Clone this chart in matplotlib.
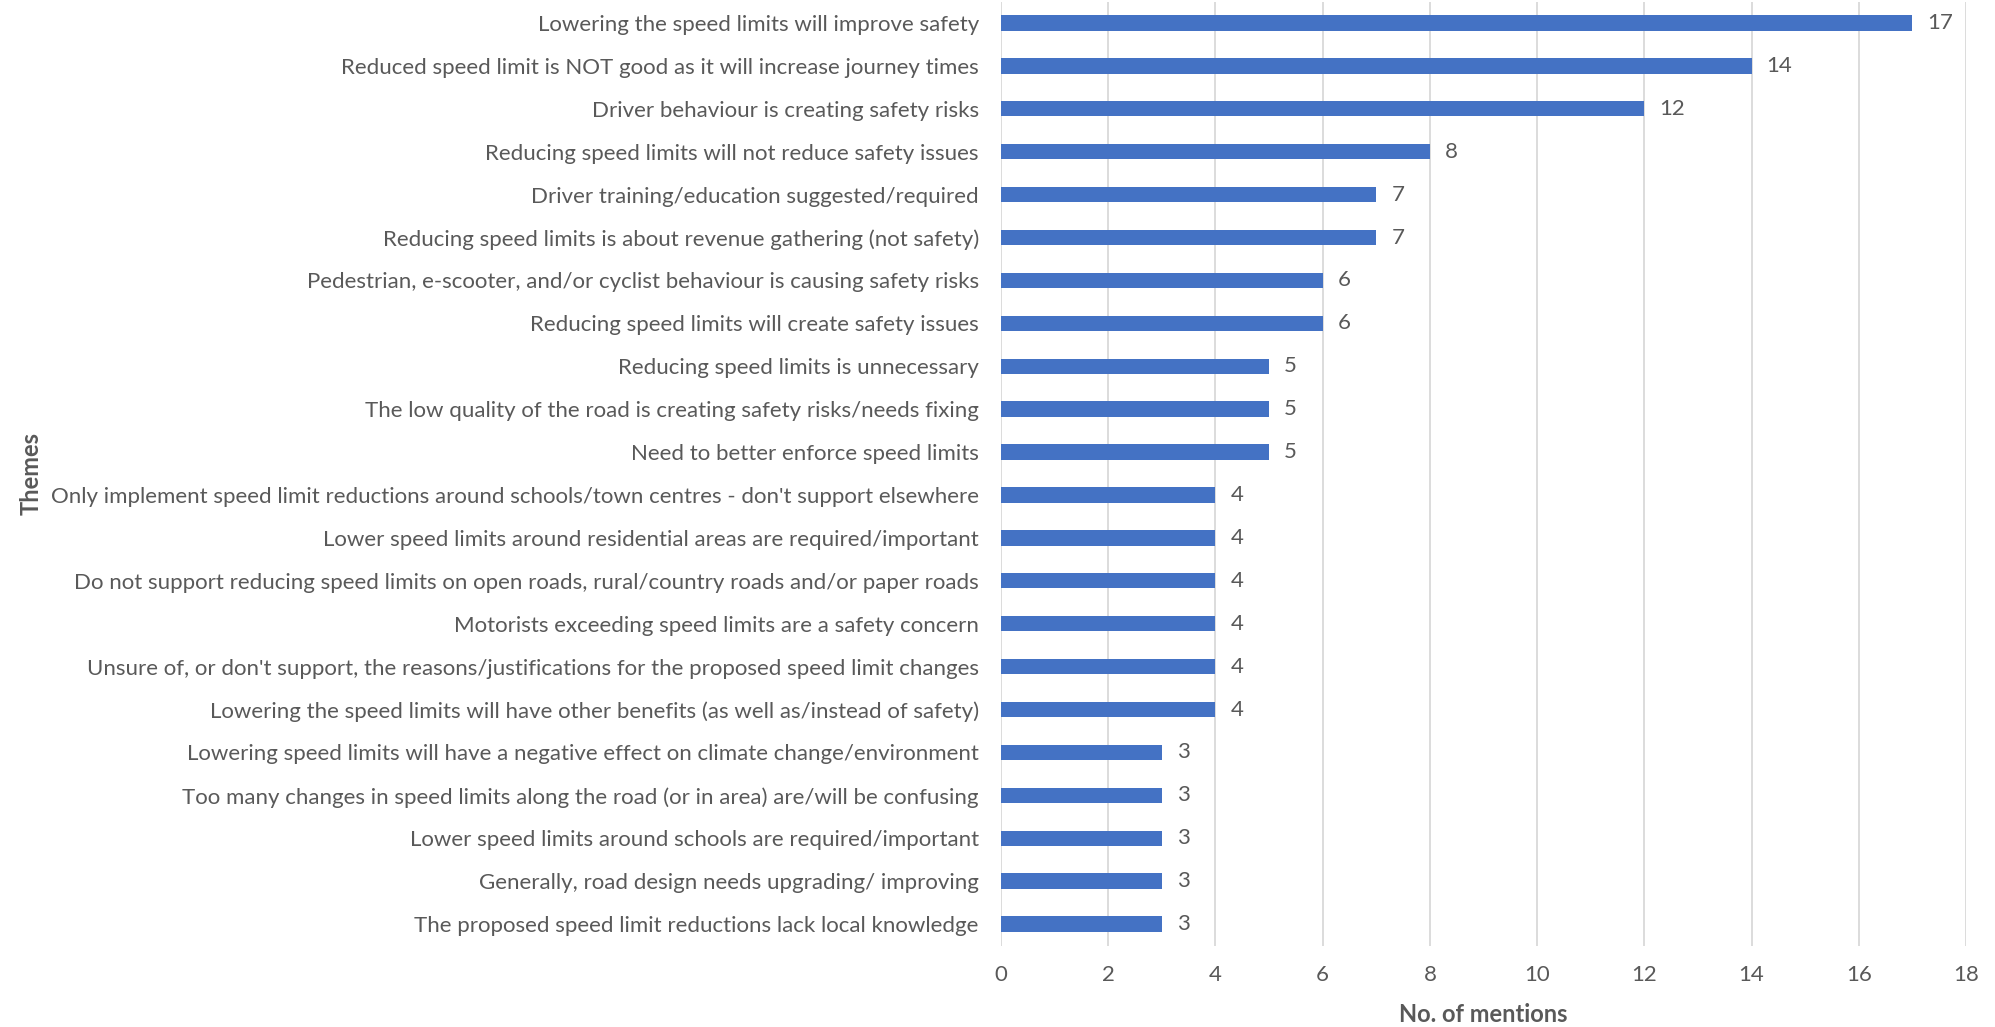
import matplotlib
matplotlib.use("Agg")
import matplotlib.pyplot as plt

themes = [
    "Lowering the speed limits will improve safety",
    "Reduced speed limit is NOT good as it will increase journey times",
    "Driver behaviour is creating safety risks",
    "Reducing speed limits will not reduce safety issues",
    "Driver training/education suggested/required",
    "Reducing speed limits is about revenue gathering (not safety)",
    "Pedestrian, e-scooter, and/or cyclist behaviour is causing safety risks",
    "Reducing speed limits will create safety issues",
    "Reducing speed limits is unnecessary",
    "The low quality of the road is creating safety risks/needs fixing",
    "Need to better enforce speed limits",
    "Only implement speed limit reductions around schools/town centres - don't support elsewhere",
    "Lower speed limits around residential areas are required/important",
    "Do not support reducing speed limits on open roads, rural/country roads and/or paper roads",
    "Motorists exceeding speed limits are a safety concern",
    "Unsure of, or don't support, the reasons/justifications for the proposed speed limit changes",
    "Lowering the speed limits will have other benefits (as well as/instead of safety)",
    "Lowering speed limits will have a negative effect on climate change/environment",
    "Too many changes in speed limits along the road (or in area) are/will be confusing",
    "Lower speed limits around schools are required/important",
    "Generally, road design needs upgrading/ improving",
    "The proposed speed limit reductions lack local knowledge",
]
mentions = [17, 14, 12, 8, 7, 7, 6, 6, 5, 5, 5, 4, 4, 4, 4, 4, 4, 3, 3, 3, 3, 3]
x_ticks = [0, 2, 4, 6, 8, 10, 12, 14, 16, 18]

TEXT = "#595959"
BAR = "#4472C4"
GRID = "#D9D9D9"

plt.rcParams["font.family"] = ["Lato", "DejaVu Sans"]

W, H = 1995, 1027
fig = plt.figure(figsize=(W / 100, H / 100), dpi=100)
left, right = 1001 / W, 1966 / W
top_px, bot_px = 1.5, 945.5
ax = fig.add_axes([left, 1 - bot_px / H, right - left, (bot_px - top_px) / H])

n = len(themes)
ypos = list(range(n))
ax.barh(ypos, mentions, height=0.36, color=BAR, zorder=3)
ax.set_ylim(n - 0.5, -0.5)
ax.set_xlim(0, 18)
ax.set_xticks(x_ticks)
ax.set_yticks(ypos)
ax.set_yticklabels(themes)

for y, v in zip(ypos, mentions):
    ax.text(v + 0.28, y, str(v), va="center", ha="left", fontsize=16, color=TEXT)

ax.grid(axis="x", color=GRID, linewidth=1.3, zorder=0)
for s in ax.spines.values():
    s.set_visible(False)
ax.tick_params(axis="y", length=0, pad=16, labelsize=16, labelcolor=TEXT)
ax.tick_params(axis="x", length=0, pad=14, labelsize=16, labelcolor=TEXT)

ax.set_xlabel("No. of mentions", fontsize=17, fontweight="bold", color=TEXT, labelpad=13)
fig.text(31 / W, 1 - 473.5 / H, "Themes", rotation=90, ha="center", va="center",
         fontsize=17, fontweight="bold", color=TEXT)

fig.savefig("out.png", dpi=100, facecolor="white")
